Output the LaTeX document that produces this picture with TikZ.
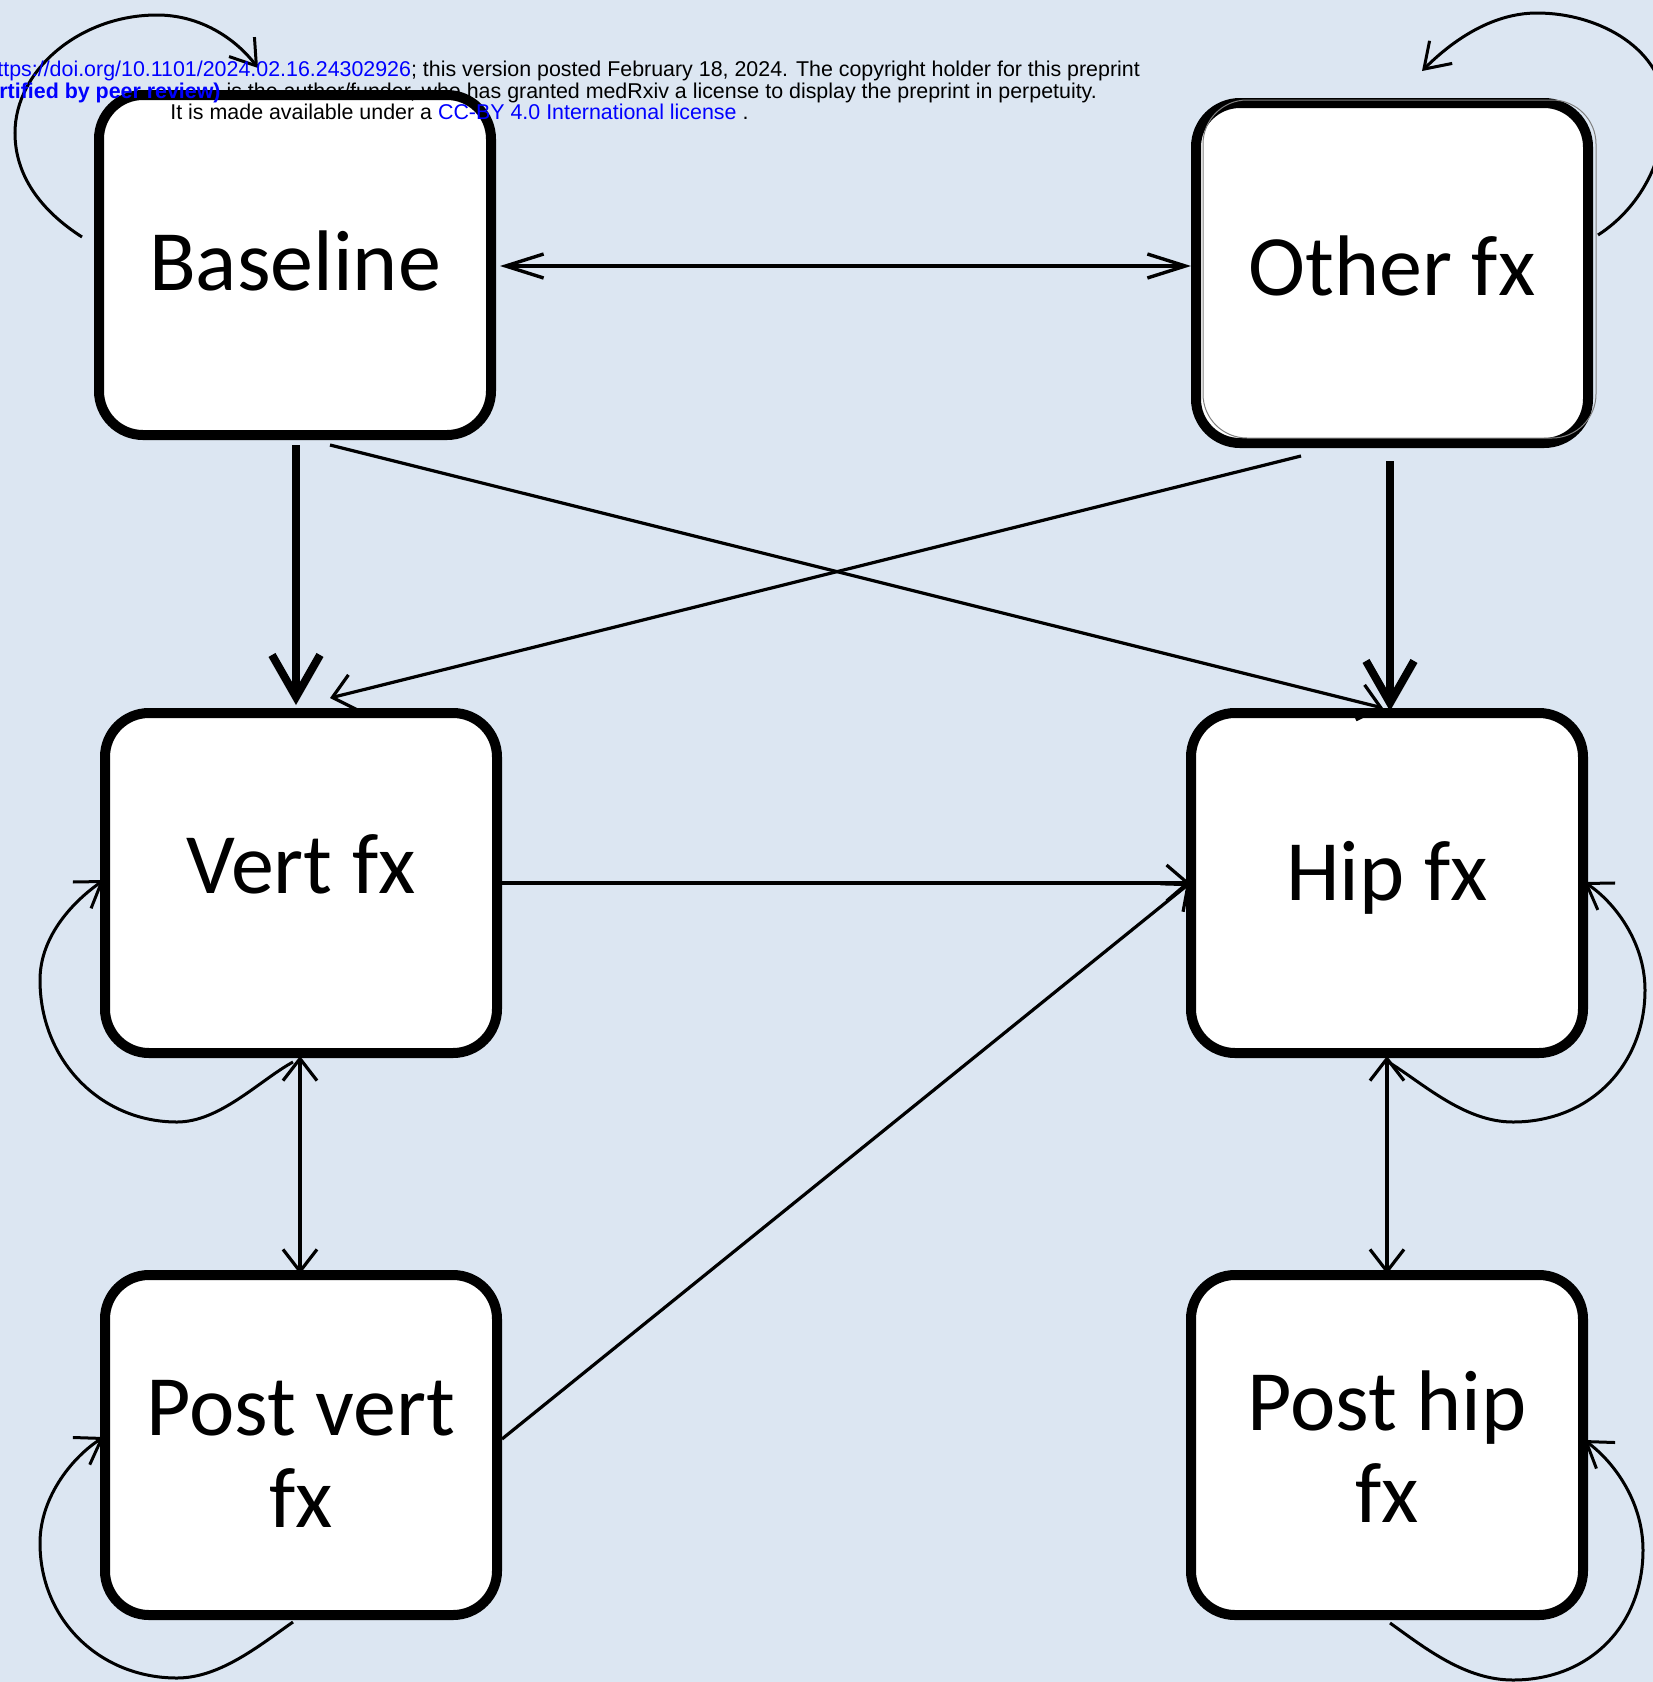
\documentclass[tikz,border=0pt]{standalone}
\usepackage{fontspec}
\setmainfont{Carlito}
\newfontfamily\hdrfont{Liberation Sans}
\usetikzlibrary{arrows.meta,calc}
\definecolor{bgblue}{RGB}{220,230,242}
\definecolor{linkblue}{RGB}{0,0,255}
\begin{document}
\begin{tikzpicture}[x=0.5pt,y=-0.5pt,
  box/.style={draw=black, fill=white, line width=5pt, rounded corners=22pt,
    minimum width=196pt, minimum height=170pt, inner sep=0pt,
    font=\fontsize{43}{46}\selectfont, text height=30pt},
  thinarr/.style={line width=1.6pt, -{Straight Barb[length=10.5pt,width=18pt]}},
  toparr/.style={line width=1.7pt, {Straight Barb[length=19pt,width=12pt]}-{Straight Barb[length=19pt,width=12pt]}},
  dblarr/.style={line width=1.6pt, {Straight Barb[length=11pt,width=17pt]}-{Straight Barb[length=11pt,width=17pt]}},
  thickarr/.style={line width=4pt, -{Straight Barb[length=21pt,width=24pt]}},
  looparr/.style={line width=1.5pt, -{Straight Barb[length=12pt,width=16pt]}},
  hdr/.style={inner sep=0pt, anchor=base west, font=\hdrfont\fontsize{10.7}{12}\selectfont}
]
\useasboundingbox (0,0) rectangle (1653,1682);
\fill[bgblue] (0,0) rectangle (1653,1682);
\clip (0,0) rectangle (1653,1682);

% boxes
\node[box, text depth=5pt]  (base)  at (295,265)  {Baseline};
\node[box, text depth=8pt]  (other) at (1392,273) {Other fx};
\draw[gray, line width=0.5pt, rounded corners=22pt] (1203,100) rectangle (1596,438);
\node[box, text depth=20pt] (vert)  at (301,883)  {Vert fx};
\node[box, text depth=13pt] (hip)   at (1387,883) {Hip fx};
\node[box, text depth=40pt] (pvert) at (301,1445) {\begin{tabular}[t]{@{}c@{}}Post vert\\fx\end{tabular}};
\node[box, text depth=45pt] (phip)  at (1387,1445) {\begin{tabular}[t]{@{}c@{}}Post hip\\fx\end{tabular}};

% connectors
\draw[toparr] ($(base.east)+(4,1)$) -- ($(other.west)+(0,-7)$);
\draw[thickarr] ($(base.south)+(1,5)$) -- ($(vert.north)+(-5,-3)$);
\draw[thickarr] ($(other.south)+(-2,13)$) -- ($(hip.north)+(3,3)$);
\draw[thinarr] ($(base.south)+(35,5)$) -- ($(hip.north)+(-4,0)$);
\draw[thinarr] ($(other.south)+(-91,8)$) -- ($(vert.north)+(29,-10)$);
\draw[thinarr] ($(vert.east)+(0,0)$) -- ($(hip.west)+(4,0)$);
\draw[thinarr] ($(pvert.east)+(0,-6)$) -- ($(hip.west)+(4,0)$);
\draw[dblarr] ($(vert.south)+(-1,-2)$) -- ($(pvert.north)+(-1,4)$);
\draw[dblarr] ($(hip.south)+(0,-2)$) -- ($(phip.north)+(0,4)$);

% self loops
\draw[looparr] ($(base.west)+(-12,-28)$) .. controls (40,210) and (15,175) .. (15,133)
  .. controls (15,70) and (80,15) .. (157,15)
  .. controls (200,15) and (235,38) .. ($(base.north)+(-37,-22)$);
\draw[looparr] ($(other.east)+(5,-38)$) .. controls (1640,208) and (1665,160) .. (1665,110)
  .. controls (1665,50) and (1600,13) .. (1537,13)
  .. controls (1490,13) and (1450,43) .. ($(other.north)+(30,-27)$);
\draw[looparr] ($(vert.south)+(-8,4)$) .. controls (260,1080) and (220,1122) .. (177,1122)
  .. controls (100,1122) and (40,1060) .. (40,980)
  .. controls (40,935) and (75,900) .. ($(vert.west)+(4,-3)$);
\draw[looparr] ($(hip.south)+(3,5)$) .. controls (1425,1085) and (1465,1122) .. (1513,1122)
  .. controls (1590,1122) and (1645,1065) .. (1645,990)
  .. controls (1645,940) and (1612,900) .. ($(hip.east)+(-4,-1)$);
\draw[looparr] ($(pvert.south)+(-8,2)$) .. controls (260,1645) and (220,1678) .. (177,1678)
  .. controls (100,1678) and (40,1620) .. (40,1543)
  .. controls (40,1495) and (75,1455) .. ($(pvert.west)+(4,-8)$);
\draw[looparr] ($(phip.south)+(3,3)$) .. controls (1425,1648) and (1465,1680) .. (1513,1680)
  .. controls (1590,1680) and (1643,1625) .. (1643,1550)
  .. controls (1643,1500) and (1612,1460) .. ($(phip.east)+(-4,-5)$);

% header text
\node[hdr] (h1) at (-3,76) {\textcolor{linkblue}{ttps://doi.org/10.1101/2024.02.16.24302926}; this version posted February 18, 2024. The copyright holder for this preprint};
\node[hdr] (h2) at (-1,98) {\textcolor{linkblue}{\bfseries rtified by peer review)} is the author/funder, who has granted medRxiv a license to display the preprint in perpetuity.};
\node[hdr] (h3) at (170,119) {It is made available under a \textcolor{linkblue}{CC-BY 4.0 International license} .};
\end{tikzpicture}
\end{document}
